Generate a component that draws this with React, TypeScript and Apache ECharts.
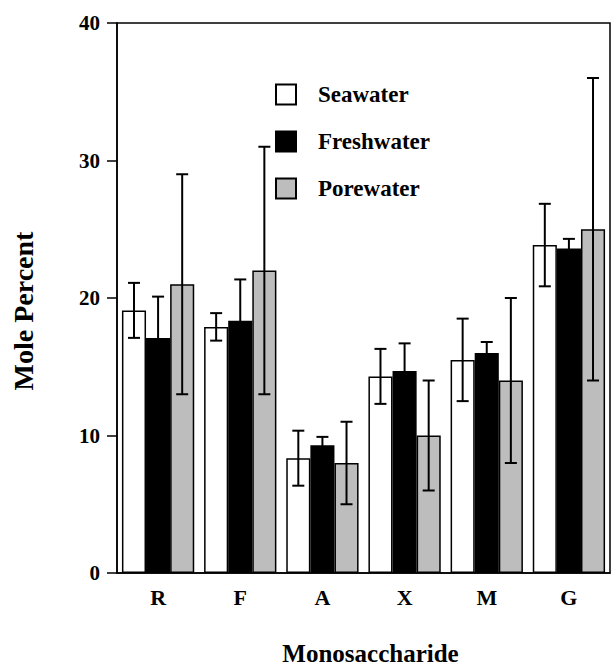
import React, { useEffect, useRef } from "react";
import * as echarts from "echarts";

const categories = ["R", "F", "A", "X", "M", "G"];
const seriesNames = ["Seawater", "Freshwater", "Porewater"];
const seawater = [19.1, 17.9, 8.35, 14.3, 15.5, 23.85];
const seawaterErr = [2, 1, 2, 2, 3, 3];
const freshwater = [17.1, 18.35, 9.3, 14.7, 16.0, 23.6];
const freshwaterErr = [3, 3, 0.6, 2, 0.8, 0.7];
const porewater = [21, 22, 8, 10, 14, 25];
const porewaterErr = [8, 9, 3, 4, 6, 11];
const yTicks = [0, 10, 20, 30, 40];

const FONT = "Liberation Serif";
const BAR_GAP_PCT = 12;

export default function App() {
  const ref = useRef<HTMLDivElement>(null);
  useEffect(() => {
    document.body.style.margin = "0";
    const chart = echarts.init(ref.current!, null, { renderer: "svg" });
    const values = [seawater, freshwater, porewater];
    const errs = [seawaterErr, freshwaterErr, porewaterErr];
    const fills = ["#ffffff", "#000000", "#bdbdbd"];

    const barSeries = seriesNames.map((name, k) => ({
      name,
      type: "bar",
      data: values[k],
      barGap: "0%",
      barCategoryGap: BAR_GAP_PCT + "%",
      itemStyle: { color: fills[k], borderColor: "#000", borderWidth: 1.5 },
      z: 2,
    }));

    const errSeries = seriesNames.map((name, k) => ({
      name: name + " error",
      type: "custom",
      z: 5,
      data: categories.map((_, i) => [i, values[k][i] - errs[k][i], values[k][i] + errs[k][i]]),
      renderItem: (params: any, api: any) => {
        const i = api.value(0);
        const lo = api.coord([i, api.value(1)]);
        const hi = api.coord([i, api.value(2)]);
        const band = api.size([1, 0])[0];
        const barW = (band * (1 - BAR_GAP_PCT / 100)) / 3;
        const x = lo[0] + (k - 1) * barW;
        const cap = 6;
        const style = { stroke: "#000", lineWidth: 2 };
        return {
          type: "group",
          children: [
            { type: "line", shape: { x1: x, y1: hi[1], x2: x, y2: lo[1] }, style },
            { type: "line", shape: { x1: x - cap, y1: hi[1], x2: x + cap, y2: hi[1] }, style },
            { type: "line", shape: { x1: x - cap, y1: lo[1], x2: x + cap, y2: lo[1] }, style },
          ],
        };
      },
    }));

    chart.setOption({
      animation: false,
      backgroundColor: "#fff",
      grid: {
        left: 117,
        top: 23,
        width: 493,
        height: 550,
        show: true,
        borderColor: "#000",
        borderWidth: 1.5,
        outerBoundsMode: "none",
        containLabel: false,
      },
      legend: {
        data: seriesNames,
        orient: "vertical",
        left: 270,
        top: 78,
        itemWidth: 20,
        itemHeight: 20,
        itemGap: 24,
        icon: "rect",
        textStyle: {
          fontFamily: FONT,
          fontWeight: "bold",
          fontSize: 23,
          color: "#000",
          padding: [0, 0, 0, 17],
        },
      },
      xAxis: {
        type: "category",
        data: categories,
        name: "Monosaccharide",
        nameLocation: "middle",
        nameGap: 68,
        nameTextStyle: {
          fontFamily: FONT,
          fontWeight: "bold",
          fontSize: 25,
          color: "#000",
          padding: [0, 0, 0, 14],
        },
        axisLine: { lineStyle: { color: "#000", width: 1.5 } },
        axisTick: { alignWithLabel: true, length: 10, lineStyle: { color: "#000", width: 1.5 } },
        axisLabel: { fontFamily: FONT, fontWeight: "bold", fontSize: 22, color: "#000", margin: 13 },
      },
      yAxis: {
        type: "value",
        min: yTicks[0],
        max: yTicks[yTicks.length - 1],
        interval: 10,
        name: "Mole Percent",
        nameLocation: "middle",
        nameRotate: 90,
        nameGap: 80,
        nameTextStyle: {
          fontFamily: FONT,
          fontWeight: "bold",
          fontSize: 28,
          color: "#000",
          padding: [0, 26, 0, 0],
        },
        axisLine: { show: true, lineStyle: { color: "#000", width: 1.5 } },
        axisTick: { show: true, length: 10, lineStyle: { color: "#000", width: 1.5 } },
        axisLabel: { fontFamily: FONT, fontWeight: "bold", fontSize: 21, color: "#000", margin: 17 },
        splitLine: { show: false },
      },
      series: [...barSeries, ...errSeries],
    });
    return () => chart.dispose();
  }, []);
  return <div ref={ref} style={{ width: 612, height: 668 }} />;
}
